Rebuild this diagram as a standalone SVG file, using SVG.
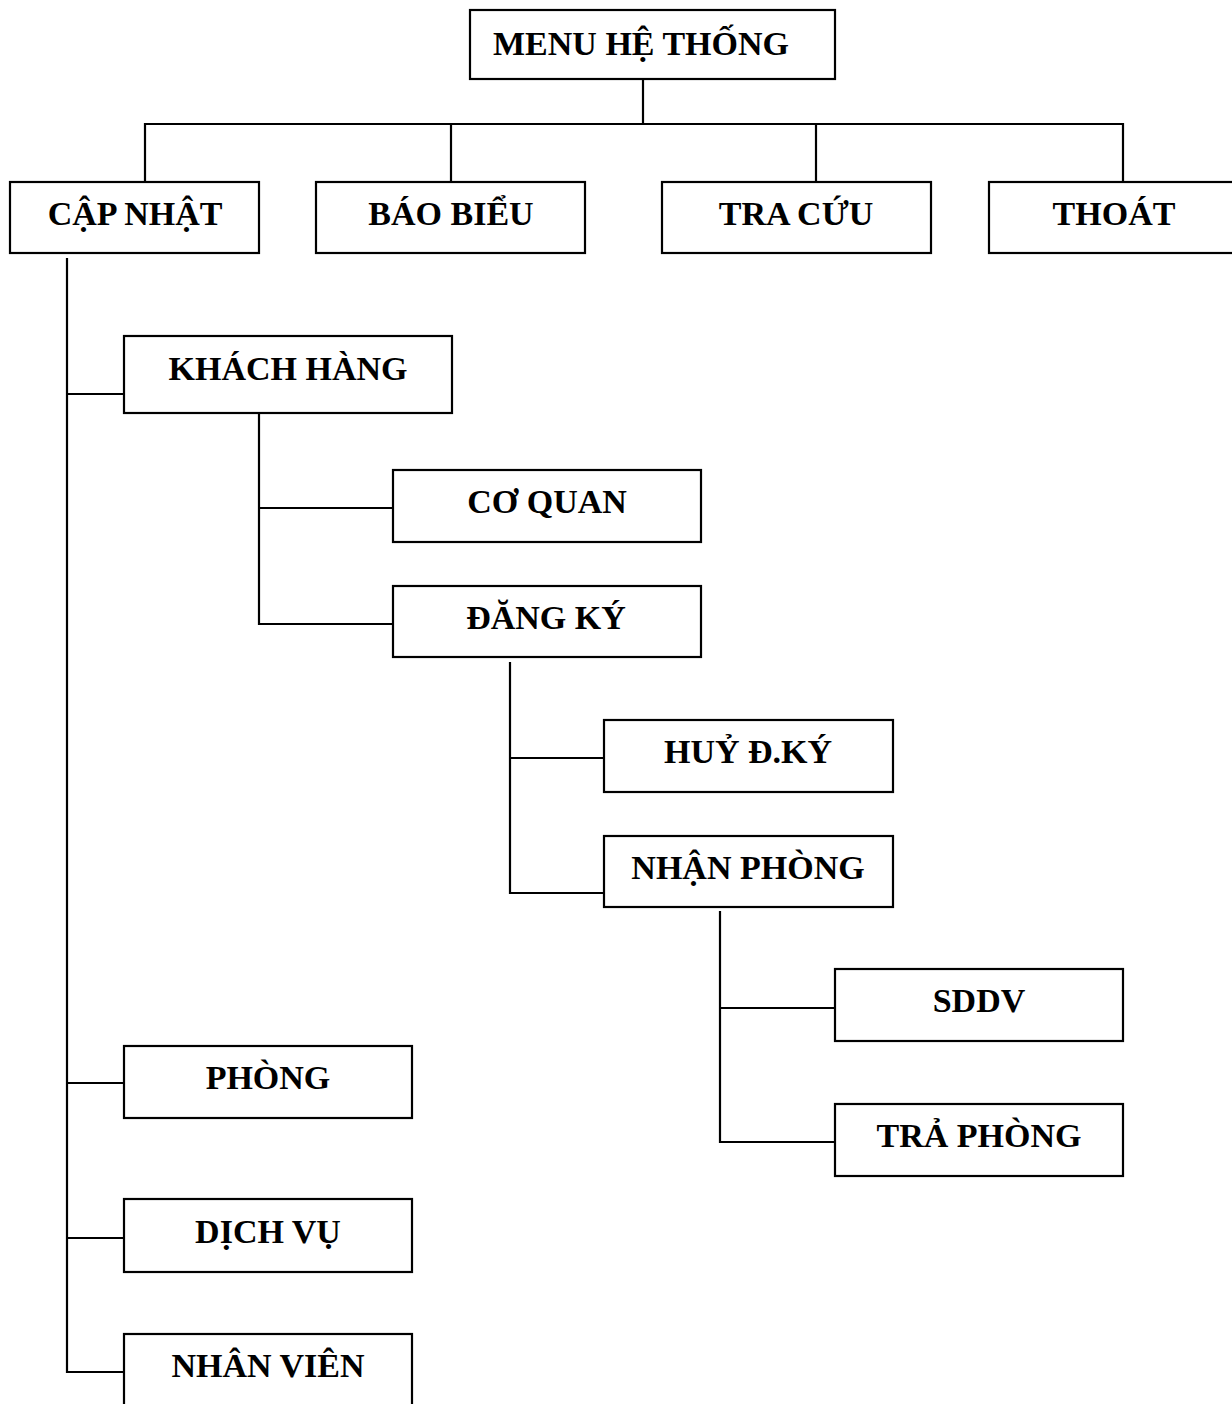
<svg xmlns="http://www.w3.org/2000/svg" width="1232" height="1404" viewBox="0 0 1232 1404">
  <style>
    .box { fill: #ffffff; stroke: #000000; stroke-width: 2.2; }
    .lbl { font-family: "Liberation Serif", "Times New Roman", serif; font-weight: bold; font-size: 34px; fill: #000000; text-anchor: middle; }
    .wire { fill: none; stroke: #000000; stroke-width: 2.2; }
  </style>
  <rect width="1232" height="1404" fill="#ffffff"/>

  <!-- connectors -->
  <g id="connectors" class="wire">
    <!-- top menu to first-level items -->
    <path d="M643 79 V124"/>
    <path d="M145 182 V124 H1123 V182"/>
    <path d="M451 124 V182"/>
    <path d="M816 124 V182"/>
    <!-- CẬP NHẬT branch -->
    <path d="M67 258 V1372 H124"/>
    <path d="M67 394 H124"/>
    <path d="M67 1083 H124"/>
    <path d="M67 1238 H124"/>
    <!-- KHÁCH HÀNG branch -->
    <path d="M259 413 V624 H393"/>
    <path d="M259 508 H393"/>
    <!-- ĐĂNG KÝ branch -->
    <path d="M510 662 V893 H604"/>
    <path d="M510 758 H604"/>
    <!-- NHẬN PHÒNG branch -->
    <path d="M720 911 V1142 H835"/>
    <path d="M720 1008 H835"/>
  </g>

  <g id="menu-he-thong">
    <rect class="box" x="470" y="10" width="365" height="69"/>
    <text class="lbl" x="641" y="55">MENU HỆ THỐNG</text>
  </g>

  <g id="cap-nhat">
    <rect class="box" x="10" y="182" width="249" height="71"/>
    <text class="lbl" x="135" y="225">CẬP NHẬT</text>
  </g>
  <g id="bao-bieu">
    <rect class="box" x="316" y="182" width="269" height="71"/>
    <text class="lbl" x="451" y="225">BÁO BIỂU</text>
  </g>
  <g id="tra-cuu">
    <rect class="box" x="662" y="182" width="269" height="71"/>
    <text class="lbl" x="796" y="225">TRA CỨU</text>
  </g>
  <g id="thoat">
    <rect class="box" x="989" y="182" width="250" height="71"/>
    <text class="lbl" x="1114" y="225">THOÁT</text>
  </g>

  <g id="khach-hang">
    <rect class="box" x="124" y="336" width="328" height="77"/>
    <text class="lbl" x="288" y="380">KHÁCH HÀNG</text>
  </g>
  <g id="co-quan">
    <rect class="box" x="393" y="470" width="308" height="72"/>
    <text class="lbl" x="547" y="513">CƠ QUAN</text>
  </g>
  <g id="dang-ky">
    <rect class="box" x="393" y="586" width="308" height="71"/>
    <text class="lbl" x="546" y="629">ĐĂNG KÝ</text>
  </g>
  <g id="huy-dky">
    <rect class="box" x="604" y="720" width="289" height="72"/>
    <text class="lbl" x="748" y="763">HUỶ Đ.KÝ</text>
  </g>
  <g id="nhan-phong">
    <rect class="box" x="604" y="836" width="289" height="71"/>
    <text class="lbl" x="748" y="879">NHẬN PHÒNG</text>
  </g>
  <g id="sddv">
    <rect class="box" x="835" y="969" width="288" height="72"/>
    <text class="lbl" x="979" y="1012">SDDV</text>
  </g>
  <g id="tra-phong">
    <rect class="box" x="835" y="1104" width="288" height="72"/>
    <text class="lbl" x="979" y="1147">TRẢ PHÒNG</text>
  </g>

  <g id="phong">
    <rect class="box" x="124" y="1046" width="288" height="72"/>
    <text class="lbl" x="268" y="1089">PHÒNG</text>
  </g>
  <g id="dich-vu">
    <rect class="box" x="124" y="1199" width="288" height="73"/>
    <text class="lbl" x="268" y="1243">DỊCH VỤ</text>
  </g>
  <g id="nhan-vien">
    <rect class="box" x="124" y="1334" width="288" height="74"/>
    <text class="lbl" x="268" y="1377">NHÂN VIÊN</text>
  </g>
</svg>
